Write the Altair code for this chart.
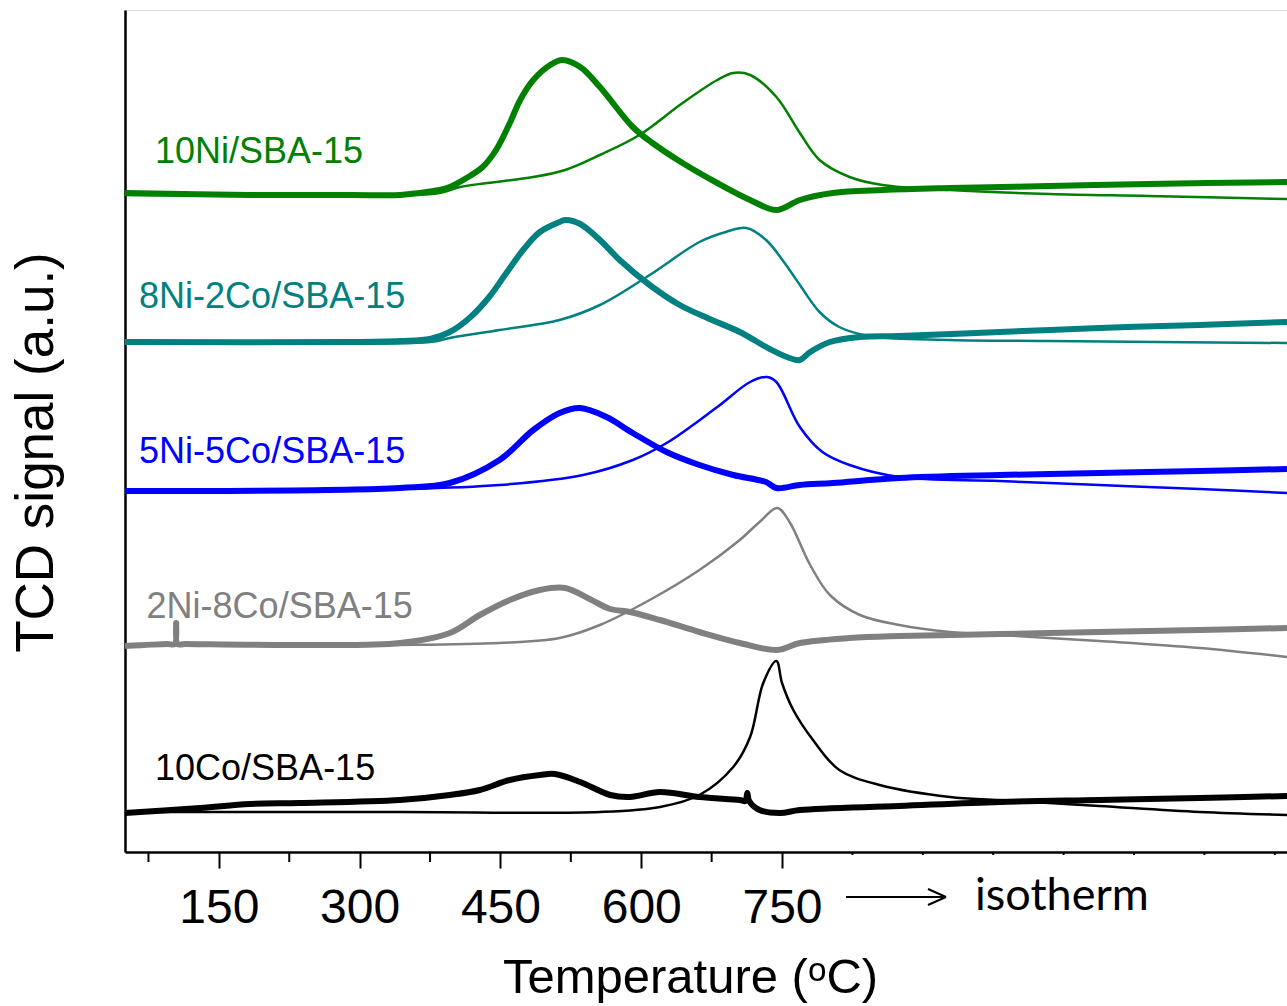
import altair as alt
import pandas as pd

# ---------------- data (temperature in °C, signal in arbitrary units) ----------------
series_names = ["10Ni/SBA-15", "8Ni-2Co/SBA-15", "5Ni-5Co/SBA-15", "2Ni-8Co/SBA-15", "10Co/SBA-15"]
series_colors = ["#008000", "#008080", "#0000FF", "#808080", "#000000"]

# thick (noisy) traces
ni10_thick_T = [50, 183, 290, 343, 364, 385, 396, 412, 431, 446, 460, 471, 485, 503, 516, 535, 556, 591, 612, 644, 681, 716, 744, 769, 804, 857, 929, 1035, 1140, 1288]
ni10_thick_y = [659, 657, 657, 657, 659, 662, 665, 673, 685, 703, 729, 752, 772, 787, 792, 785, 765, 725, 709, 689, 669, 652, 642, 652, 659, 662, 664, 666, 668, 670]

ni8_thick_T = [50, 290, 343, 375, 396, 417, 438, 457, 475, 492, 513, 519, 535, 556, 577, 609, 641, 673, 705, 737, 758, 769, 780, 801, 833, 875, 982, 1088, 1195, 1288]
ni8_thick_y = [510, 510, 511, 513, 520, 534, 555, 580, 603, 620, 630, 632, 628, 612, 592, 567, 547, 533, 520, 503, 494, 492, 500, 510, 515, 516, 520, 524, 527, 530]

ni5_thick_T = [50, 343, 396, 449, 485, 513, 535, 563, 591, 627, 662, 698, 733, 744, 769, 804, 875, 982, 1088, 1195, 1288]
ni5_thick_y = [361, 364, 369, 392, 422, 439, 444, 435, 419, 400, 387, 377, 370, 364, 367, 369, 374, 377, 379, 381, 383]

ni2_thick_T = [50, 95, 103, 104.5, 106, 114, 236, 343, 396, 428, 460, 492, 519, 545, 567, 588, 620, 662, 705, 745, 769, 822, 875, 982, 1088, 1195, 1288]
ni2_thick_y = [206, 208, 208, 229, 208, 208, 207, 209, 219, 237, 252, 262, 264, 253, 243, 240, 232, 220, 209, 202, 209, 214, 216, 218, 220, 222, 224]

co10_thick_T = [50, 130, 183, 236, 343, 396, 428, 460, 492, 508, 535, 567, 588, 620, 662, 705, 711, 713, 715, 726, 748, 769, 875, 982, 1088, 1195, 1288]
co10_thick_y = [39, 44, 48, 49, 52, 57, 62, 72, 77, 78, 70, 57, 55, 60, 55, 52, 51, 59, 51, 42, 39, 42, 46, 50, 52, 54, 56]

# thin (smooth) traces
ni10_thin_T = [50, 343, 385, 407, 436, 485, 519, 556, 598, 644, 681, 698, 716, 744, 769, 790, 822, 857, 929, 1035, 1140, 1288]
ni10_thin_y = [657, 657, 659, 665, 669, 675, 682, 697, 717, 749, 772, 779, 777, 755, 719, 692, 675, 667, 662, 658, 656, 653]

ni8_thin_T = [50, 375, 396, 449, 513, 556, 609, 662, 690, 712, 733, 752, 769, 790, 811, 843, 929, 1035, 1288]
ni8_thin_y = [510, 510, 514, 522, 532, 547, 577, 610, 620, 624, 612, 590, 567, 540, 525, 516, 512, 511, 509]

ni5_thin_T = [50, 343, 449, 538, 591, 627, 681, 716, 734, 744, 769, 793, 822, 875, 982, 1088, 1195, 1288]
ni5_thin_y = [361, 363, 367, 377, 392, 409, 445, 470, 475, 470, 425, 400, 387, 375, 371, 367, 363, 359]

ni2_thin_T = [50, 343, 449, 513, 556, 609, 662, 705, 726, 745, 758, 780, 801, 833, 875, 929, 982, 1088, 1195, 1288]
ni2_thin_y = [207, 207, 209, 214, 227, 252, 282, 312, 330, 344, 330, 287, 257, 237, 227, 220, 217, 211, 204, 195]

co10_thin_T = [50, 343, 556, 620, 662, 698, 716, 730, 744, 750, 762, 783, 811, 854, 929, 982, 1088, 1195, 1288]
co10_thin_y = [40, 40, 40, 45, 57, 85, 115, 169, 191, 169, 142, 112, 82, 67, 55, 52, 46, 40, 37]

# series labels (position in data space, left/baseline anchored)
label_T = [82, 65, 65, 73, 82]
label_y = [689, 544, 389, 234, 72]

major_ticks = [150, 300, 450, 600, 750]
minor_ticks = [75, 225, 375, 525, 675]
isotherm_ticks = [825, 900, 975, 1050, 1125, 1200, 1275]

# ---------------- build tables ----------------
thick = [(ni10_thick_T, ni10_thick_y), (ni8_thick_T, ni8_thick_y), (ni5_thick_T, ni5_thick_y),
         (ni2_thick_T, ni2_thick_y), (co10_thick_T, co10_thick_y)]
thin = [(ni10_thin_T, ni10_thin_y), (ni8_thin_T, ni8_thin_y), (ni5_thin_T, ni5_thin_y),
        (ni2_thin_T, ni2_thin_y), (co10_thin_T, co10_thin_y)]

rows_thick, rows_thin = [], []
for name, (tt, yy) in zip(series_names, thick):
    for i, (t, y) in enumerate(zip(tt, yy)):
        rows_thick.append({"T": t, "signal": y, "series": name, "i": i})
for name, (tt, yy) in zip(series_names, thin):
    for i, (t, y) in enumerate(zip(tt, yy)):
        rows_thin.append({"T": t, "signal": y, "series": name, "i": i})
df_thick = pd.DataFrame(rows_thick)
df_thin = pd.DataFrame(rows_thin)
df_labels = pd.DataFrame({"T": label_T, "signal": label_y, "series": series_names})
df_minor = pd.DataFrame({"T": minor_ticks})
df_iso = pd.DataFrame({"T": isotherm_ticks})

W, H = 1162, 842
xscale = alt.Scale(domain=[50, 1288], nice=False, zero=False)
yscale = alt.Scale(domain=[0, 842], nice=False, zero=False)
cscale = alt.Scale(domain=series_names, range=series_colors)

x_enc = alt.X("T:Q", scale=xscale,
              axis=alt.Axis(values=major_ticks, title="Temperature (ᵒC)", grid=False,
                            domainColor="black", domainWidth=2.5, tickColor="black", tickWidth=2,
                            tickSize=16, labelFont="Liberation Sans", labelFontSize=48,
                            labelColor="black", labelBaseline="alphabetic", labelPadding=54,
                            labelFlush=False, labelOverlap=False,
                            titleFont="Liberation Sans", titleFontSize=49, titleFontWeight="normal",
                            titleColor="black", titleX=565, titleY=140, titleAlign="center",
                            titleBaseline="alphabetic"))
y_enc = alt.Y("signal:Q", scale=yscale,
              axis=alt.Axis(labels=False, ticks=False, grid=False, title="TCD signal (a.u.)",
                            domainColor="black", domainWidth=2.5,
                            titleFont="Liberation Sans", titleFontSize=53, titleFontWeight="normal",
                            titleColor="black", titleAngle=-90, titleX=-73, titleY=442,
                            titleAlign="center", titleBaseline="alphabetic"))

thick_layer = alt.Chart(df_thick).mark_line(strokeWidth=6, interpolate="catmull-rom", strokeJoin="round").encode(
    x=x_enc, y=y_enc,
    color=alt.Color("series:N", scale=cscale, legend=None),
    detail="series:N", order="i:Q")

thin_layer = alt.Chart(df_thin).mark_line(strokeWidth=2.5, interpolate="catmull-rom").encode(
    x="T:Q", y="signal:Q",
    color=alt.Color("series:N", scale=cscale, legend=None),
    detail="series:N", order="i:Q")

labels_layer = alt.Chart(df_labels).mark_text(
    align="left", baseline="alphabetic", font="Liberation Sans", fontSize=36).encode(
    x="T:Q", y="signal:Q", text="series:N",
    color=alt.Color("series:N", scale=cscale, legend=None))

minor_layer = alt.Chart(df_minor).mark_rule(color="black", strokeWidth=2).encode(
    x="T:Q", y=alt.value(H), y2=alt.value(H + 10))
iso_layer = alt.Chart(df_iso).mark_rule(color="black", strokeWidth=2).encode(
    x="T:Q", y=alt.value(H), y2=alt.value(H + 3))

arrow_shaft = alt.Chart(pd.DataFrame({"a": [0]})).mark_rule(color="black", strokeWidth=2).encode(
    x=alt.value(721), x2=alt.value(821), y=alt.value(887), y2=alt.value(887))
arrow_head1 = alt.Chart(pd.DataFrame({"a": [0]})).mark_rule(color="black", strokeWidth=2).encode(
    x=alt.value(803), x2=alt.value(821), y=alt.value(879), y2=alt.value(887))
arrow_head2 = alt.Chart(pd.DataFrame({"a": [0]})).mark_rule(color="black", strokeWidth=2).encode(
    x=alt.value(803), x2=alt.value(821), y=alt.value(895), y2=alt.value(887))
iso_text = alt.Chart(pd.DataFrame({"t": ["isotherm"]})).mark_text(
    align="left", baseline="alphabetic", font="Lato", fontSize=45, color="black").encode(
    x=alt.value(850), y=alt.value(900), text="t:N")

chart = alt.layer(thick_layer, thin_layer, labels_layer, minor_layer, iso_layer,
                  arrow_shaft, arrow_head1, arrow_head2, iso_text).properties(
    width=W, height=H,
    autosize=alt.AutoSizeParams(type="none"),
    padding={"left": 125, "top": 10, "right": 0, "bottom": 154},
).configure_view(stroke=None).configure(background="white")

chart.save("out.html", embed_options={"renderer": "svg", "actions": False})
